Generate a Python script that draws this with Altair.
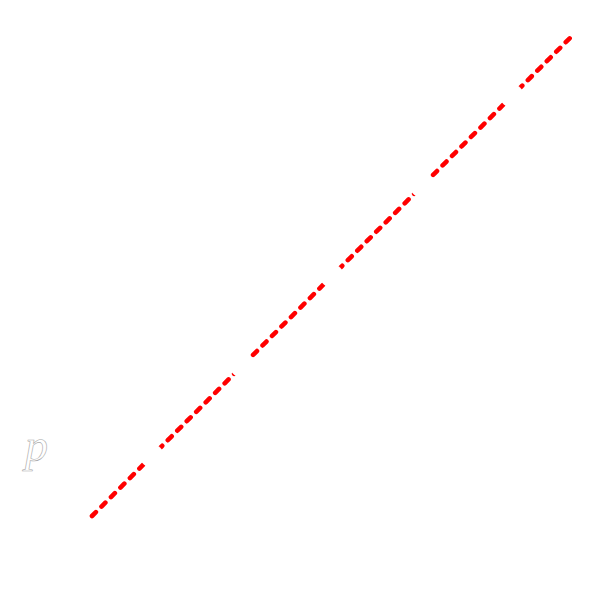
import altair as alt
import pandas as pd

line_x = [0, 16]
line_y = [0, 16]
marker_x = [2, 5, 8, 11, 14]
marker_y = [2, 5, 8, 11, 14]
label_text = ["p"]
label_x = [-1.85]
label_y = [2.3]

dom = [-2.8, 16.933]
xs = alt.Scale(domain=dom, nice=False, zero=False)
ys = alt.Scale(domain=dom, nice=False, zero=False)

line_df = pd.DataFrame({"x": line_x, "y": line_y})
mark_df = pd.DataFrame({"x": marker_x, "y": marker_y})
label_df = pd.DataFrame({"x": label_x, "y": label_y, "t": label_text})

line = alt.Chart(line_df).mark_line(
    color="#ff0000", strokeWidth=4.6, strokeDash=[5.5, 7.9], strokeCap="round"
).encode(
    x=alt.X("x:Q", scale=xs, axis=None),
    y=alt.Y("y:Q", scale=ys, axis=None),
)

markers = alt.Chart(mark_df).mark_point(
    shape="circle", filled=True, color="white", opacity=1, size=560, strokeWidth=0
).encode(
    x=alt.X("x:Q", scale=xs, axis=None),
    y=alt.Y("y:Q", scale=ys, axis=None),
)

label = alt.Chart(label_df).mark_text(
    font="Liberation Serif", fontStyle="italic", fontSize=46,
    fill="white", stroke="#aaaaaa", strokeWidth=0.6,
    align="center", baseline="middle",
).encode(
    x=alt.X("x:Q", scale=xs, axis=None),
    y=alt.Y("y:Q", scale=ys, axis=None),
    text="t:N",
)

chart = alt.layer(line, markers, label).properties(
    width=592, height=592, padding=0,
    autosize=alt.AutoSizeParams(type="none"),
).configure_view(stroke=None)

chart.save("out.html", embed_options={"renderer": "svg", "actions": False})
